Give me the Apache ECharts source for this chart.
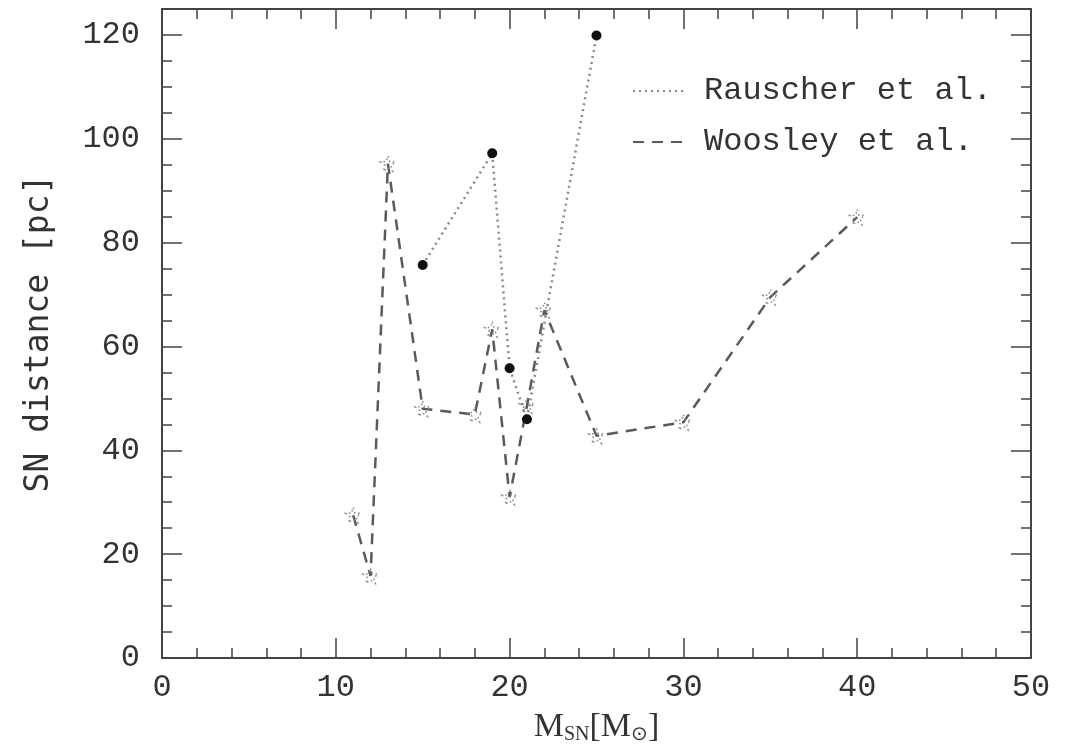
<!DOCTYPE html>
<html>
<head>
<meta charset="utf-8">
<script src="https://cdn.jsdelivr.net/npm/echarts@6/dist/echarts.min.js"></script>
<style>
html,body{margin:0;padding:0;background:#fff;}
#chart{width:1068px;height:754px;}
</style>
</head>
<body>
<div id="chart"></div>
<script>
// ---- data ----
var seriesNames = ['Rauscher et al.', 'Woosley et al.'];
var rauscherMass = [15, 19, 20, 21, 25];
var rauscherDist = [75.7, 97.2, 55.8, 46.0, 119.9];
var woosleyMass = [11, 12, 13, 15, 18, 19, 20, 21, 22, 25, 30, 35, 40];
var woosleyDist = [27.5, 15.8, 95.2, 48.0, 46.9, 63.3, 31.0, 48.6, 67.0, 42.8, 45.4, 69.5, 84.9];
var xTicks = [0, 10, 20, 30, 40, 50];
var yTicks = [0, 20, 40, 60, 80, 100, 120];

function pairs(xs, ys) { return xs.map(function (x, i) { return [x, ys[i]]; }); }

var starPath = 'path://M12,0 L14.9,8.3 L24,8.5 L16.8,13.9 L19.4,22.6 L12,17.5 L4.6,22.6 L7.2,13.9 L0,8.5 L9.1,8.3 Z';
var textColor = '#333';
var axisColor = '#444';
var monoFont = 'Liberation Mono';

var chart = echarts.init(document.getElementById('chart'), null, { renderer: 'canvas' });

function baseAxis(extra) {
  var a = {
    type: 'value',
    axisLine: { show: true, onZero: false, lineStyle: { color: axisColor, width: 2 } },
    axisTick: { show: true, inside: true, length: 20, lineStyle: { color: axisColor, width: 1.5 } },
    minorTick: { show: true, splitNumber: 5, length: 10, lineStyle: { color: axisColor, width: 1.5 } },
    splitLine: { show: false },
    axisLabel: { show: false }
  };
  for (var k in extra) a[k] = extra[k];
  return a;
}

var option = {
  backgroundColor: '#fff',
  animation: false,
  grid: { left: 162, right: 37, top: 9, bottom: 96, containLabel: false },
  legend: {
    orient: 'vertical',
    left: 627,
    top: 70,
    itemWidth: 52,
    itemHeight: 14,
    itemGap: 19,
    itemStyle: { opacity: 0 },
    textStyle: { fontFamily: monoFont, fontSize: 32, color: textColor, lineHeight: 32, padding: [0, 0, 0, 14] },
    data: seriesNames
  },
  xAxis: [
    baseAxis({
      min: 0, max: 50, interval: 10, position: 'bottom',
      axisLabel: { show: true, margin: 14, fontFamily: monoFont, fontSize: 32, color: textColor,
        formatter: function (v) { return xTicks.indexOf(v) >= 0 ? String(v) : ''; } },
      name: '{m|M}{s|SN}{m|[M}{s|⊙}{m|]}',
      nameLocation: 'middle',
      nameGap: 46,
      nameTextStyle: {
        rich: {
          m: { fontFamily: 'Liberation Serif', fontSize: 34, color: textColor, lineHeight: 36 },
          s: { fontFamily: 'Liberation Serif', fontSize: 20, color: textColor, padding: [16, 0, 0, 0], lineHeight: 36 }
        }
      }
    }),
    baseAxis({ min: 0, max: 50, interval: 10, position: 'top' })
  ],
  yAxis: [
    baseAxis({
      min: 0, max: 125, interval: 20, position: 'left',
      axisLabel: { show: true, margin: 22, fontFamily: monoFont, fontSize: 32, color: textColor,
        formatter: function (v) { return yTicks.indexOf(v) >= 0 ? String(v) : ''; } },
      minorTick: { show: true, splitNumber: 4, length: 10, lineStyle: { color: axisColor, width: 1.5 } },
      name: 'SN distance [pc]',
      nameLocation: 'middle',
      nameGap: 106,
      nameTextStyle: { fontFamily: 'DejaVu Sans Mono', fontSize: 33, color: textColor }
    }),
    baseAxis({ min: 0, max: 125, interval: 20, position: 'right',
      minorTick: { show: true, splitNumber: 4, length: 10, lineStyle: { color: axisColor, width: 1.5 } } })
  ],
  series: [
    {
      name: seriesNames[0],
      type: 'line',
      data: pairs(rauscherMass, rauscherDist),
      symbol: 'circle',
      symbolSize: 10,
      itemStyle: { color: '#111' },
      lineStyle: { color: '#888', width: 2.5, type: [2, 4] },
      z: 3
    },
    {
      name: seriesNames[1],
      type: 'line',
      data: pairs(woosleyMass, woosleyDist),
      symbol: starPath,
      symbolSize: 15,
      itemStyle: { color: 'rgba(255,255,255,0)', borderColor: '#888', borderWidth: 1.5, borderType: [1.5, 3] },
      lineStyle: { color: '#5a5a5a', width: 2.5, type: [11, 8] },
      z: 2
    }
  ]
};
chart.setOption(option);
</script>
</body>
</html>
